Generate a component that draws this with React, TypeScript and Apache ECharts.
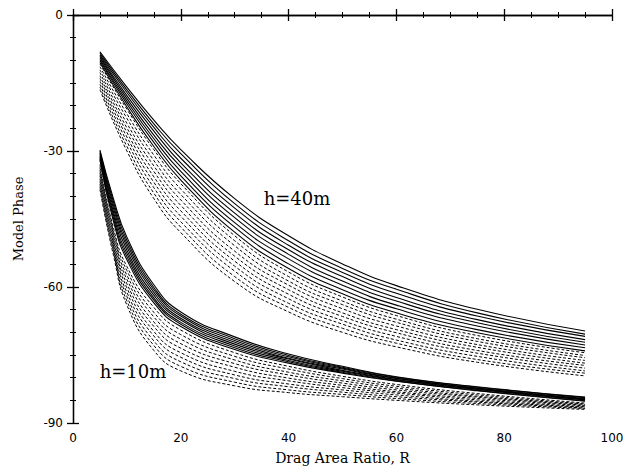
import React, { useEffect, useRef } from "react";
import * as echarts from "echarts";

// Drag area ratio sample points for each family
const R40 = [5, 10, 15, 20, 30, 40, 50, 60, 75, 95];
const R10 = [5, 7.5, 10, 15, 20, 30, 40, 50, 60, 75, 95];

// h = 40 m, solid curves
const h40Solid = [
  [-8.1, -15.9, -23.2, -29.7, -40.5, -48.7, -54.9, -59.7, -64.9, -69.7],
  [-8.4, -16.5, -24.0, -30.6, -41.6, -49.8, -55.9, -60.5, -65.7, -70.4],
  [-8.8, -17.1, -24.8, -31.6, -42.6, -50.8, -56.8, -61.4, -66.4, -70.9],
  [-9.1, -17.8, -25.6, -32.6, -43.7, -51.8, -57.7, -62.3, -67.2, -71.6],
  [-9.4, -18.4, -26.5, -33.5, -44.7, -52.8, -58.7, -63.1, -67.9, -72.2],
  [-9.8, -19.0, -27.3, -34.5, -45.8, -53.8, -59.6, -64.0, -68.6, -72.8],
  [-10.1, -19.6, -28.1, -35.5, -46.8, -54.9, -60.6, -64.8, -69.4, -73.4],
  [-10.5, -20.3, -29.0, -36.4, -47.9, -55.9, -61.5, -65.7, -70.1, -74.1],
];

// h = 40 m, dashed curves
const h40Dashed = [
  [-10.8, -20.8, -29.7, -37.2, -48.7, -56.7, -62.2, -66.3, -70.7, -74.5],
  [-11.4, -21.8, -30.9, -38.4, -49.8, -57.7, -63.1, -67.1, -71.4, -75.1],
  [-12.1, -22.8, -32.1, -39.6, -50.9, -58.7, -63.9, -67.8, -72.0, -75.6],
  [-12.7, -23.9, -33.3, -40.8, -52.1, -59.6, -64.8, -68.6, -72.7, -76.2],
  [-13.4, -24.9, -34.5, -42.0, -53.2, -60.6, -65.7, -69.4, -73.3, -76.8],
  [-14.0, -25.9, -35.7, -43.2, -54.3, -61.6, -66.5, -70.1, -74.0, -77.3],
  [-14.6, -26.9, -36.9, -44.4, -55.4, -62.6, -67.4, -70.9, -74.6, -77.9],
  [-15.3, -27.9, -38.1, -45.6, -56.5, -63.6, -68.2, -71.7, -75.3, -78.5],
  [-15.9, -29.0, -39.3, -46.8, -57.7, -64.5, -69.1, -72.4, -76.0, -79.0],
  [-16.5, -30.0, -40.5, -48.0, -58.8, -65.5, -70.0, -73.2, -76.6, -79.6],
];

// h = 10 m, solid curves
const h10Solid = [
  [-29.8, -40.5, -49.0, -59.5, -65.5, -71.0, -74.8, -77.5, -79.8, -82.0, -84.3],
  [-30.1, -41.2, -49.7, -60.1, -66.0, -71.4, -75.1, -77.7, -79.9, -82.1, -84.4],
  [-30.4, -41.9, -50.4, -60.6, -66.4, -71.8, -75.4, -77.9, -80.1, -82.3, -84.6],
  [-30.7, -42.6, -51.1, -61.2, -66.9, -72.2, -75.7, -78.1, -80.2, -82.4, -84.7],
  [-31.1, -43.4, -51.9, -61.8, -67.3, -72.6, -75.9, -78.4, -80.4, -82.5, -84.8],
  [-31.4, -44.1, -52.6, -62.4, -67.8, -73.0, -76.2, -78.6, -80.5, -82.6, -84.9],
  [-31.7, -44.8, -53.3, -62.9, -68.2, -73.4, -76.5, -78.8, -80.7, -82.8, -85.1],
  [-32.0, -45.5, -54.0, -63.5, -68.7, -73.8, -76.8, -79.0, -80.8, -82.9, -85.2],
];

// h = 10 m, dashed curves
const h10Dashed = [
  [-33.0, -47.0, -55.5, -64.5, -69.5, -74.5, -77.5, -79.7, -81.5, -83.5, -85.6],
  [-33.6, -47.7, -56.4, -65.6, -70.5, -75.3, -78.1, -80.2, -81.9, -83.8, -85.8],
  [-34.2, -48.3, -57.4, -66.6, -71.5, -76.1, -78.8, -80.7, -82.3, -84.1, -85.9],
  [-34.8, -49.0, -58.3, -67.7, -72.5, -76.9, -79.4, -81.2, -82.7, -84.3, -86.1],
  [-35.4, -49.7, -59.3, -68.7, -73.5, -77.7, -80.1, -81.7, -83.1, -84.6, -86.2],
  [-36.1, -50.3, -60.2, -69.8, -74.5, -78.6, -80.7, -82.2, -83.4, -84.9, -86.4],
  [-36.7, -51.0, -61.2, -70.8, -75.5, -79.4, -81.4, -82.7, -83.8, -85.2, -86.5],
  [-37.3, -51.7, -62.1, -71.9, -76.5, -80.2, -82.0, -83.2, -84.2, -85.4, -86.7],
  [-37.9, -52.3, -63.1, -72.9, -77.5, -81.0, -82.7, -83.7, -84.6, -85.7, -86.8],
  [-38.5, -53.0, -64.0, -74.0, -78.5, -81.8, -83.3, -84.2, -85.0, -86.0, -87.0],
];

const xTitle = "Drag Area Ratio, R";
const yTitle = "Model Phase";
const labels = ["h=40m", "h=10m"];

export default function App() {
  const ref = useRef<HTMLDivElement>(null);

  useEffect(() => {
    const chart = echarts.init(ref.current!, null, { renderer: "svg" });

    const makeSeries = (xs: number[], curves: number[][], dashed: boolean) =>
      curves.map((ys) => ({
        type: "line",
        data: xs.map((x, i) => [x, ys[i]]),
        showSymbol: false,
        symbol: "none",
        smooth: 0.5,
        silent: true,
        lineStyle: {
          color: "#000",
          width: dashed ? 1 : 1.1,
          type: dashed ? [3, 2] : "solid",
        },
      }));

    const tickFont = { color: "#000", fontFamily: "DejaVu Sans", fontSize: 12 };
    const lineCol = { color: "#000", width: 1.3 };

    const series: any[] = [
      ...makeSeries(R40, h40Dashed, true),
      ...makeSeries(R40, h40Solid, false),
      ...makeSeries(R10, h10Dashed, true),
      ...makeSeries(R10, h10Solid, false),
    ];

    chart.setOption({
      animation: false,
      backgroundColor: "#fff",
      grid: {
        left: 73,
        right: 15,
        top: 15,
        bottom: 48,
        containLabel: false,
        outerBoundsMode: "none",
      },
      xAxis: [
        {
          type: "value",
          position: "bottom",
          min: 0,
          max: 100,
          interval: 20,
          axisLine: { show: true, lineStyle: lineCol },
          axisTick: { show: true, inside: false, length: 6, lineStyle: lineCol },
          minorTick: { show: true, splitNumber: 4, length: 3, lineStyle: { color: "#000" } },
          splitLine: { show: false },
          axisLabel: { ...tickFont, margin: 9 },
          name: xTitle,
          nameLocation: "middle",
          nameGap: 28,
          nameTextStyle: { color: "#000", fontFamily: "DejaVu Serif", fontSize: 14 },
        },
        {
          type: "value",
          position: "top",
          min: 0,
          max: 100,
          interval: 20,
          axisLine: { show: true, lineStyle: lineCol },
          axisTick: { show: true, inside: false, length: 6, lineStyle: lineCol },
          minorTick: { show: true, splitNumber: 4, length: 3, lineStyle: { color: "#000" } },
          splitLine: { show: false },
          axisLabel: { show: false },
        },
      ],
      yAxis: [
        {
          type: "value",
          position: "left",
          min: -90,
          max: 0,
          interval: 30,
          axisLine: { show: true, lineStyle: lineCol },
          axisTick: { show: true, inside: false, length: 6, lineStyle: lineCol },
          minorTick: { show: true, splitNumber: 6, length: 3, lineStyle: { color: "#000" } },
          splitLine: { show: false },
          axisLabel: { ...tickFont, margin: 10 },
          name: yTitle,
          nameLocation: "middle",
          nameGap: 48,
          nameTextStyle: { color: "#000", fontFamily: "DejaVu Serif", fontSize: 13 },
        },
        {
          type: "value",
          position: "right",
          min: -90,
          max: 0,
          interval: 30,
          axisLine: { show: true, lineStyle: lineCol },
          axisTick: { show: true, inside: false, length: 6, lineStyle: lineCol },
          minorTick: { show: true, splitNumber: 6, length: 3, lineStyle: { color: "#000" } },
          splitLine: { show: false },
          axisLabel: { show: false },
        },
      ],
      graphic: [
        {
          type: "text",
          x: 297,
          y: 198,
          style: {
            text: labels[0],
            fill: "#000",
            font: "18px 'DejaVu Serif'",
            textAlign: "center",
            textVerticalAlign: "middle",
          },
        },
        {
          type: "text",
          x: 133,
          y: 371,
          style: {
            text: labels[1],
            fill: "#000",
            font: "18px 'DejaVu Serif'",
            textAlign: "center",
            textVerticalAlign: "middle",
          },
        },
      ],
      series,
    });

    return () => chart.dispose();
  }, []);

  return (
    <div
      ref={ref}
      style={{ position: "fixed", left: 0, top: 0, width: 627, height: 471 }}
    />
  );
}
